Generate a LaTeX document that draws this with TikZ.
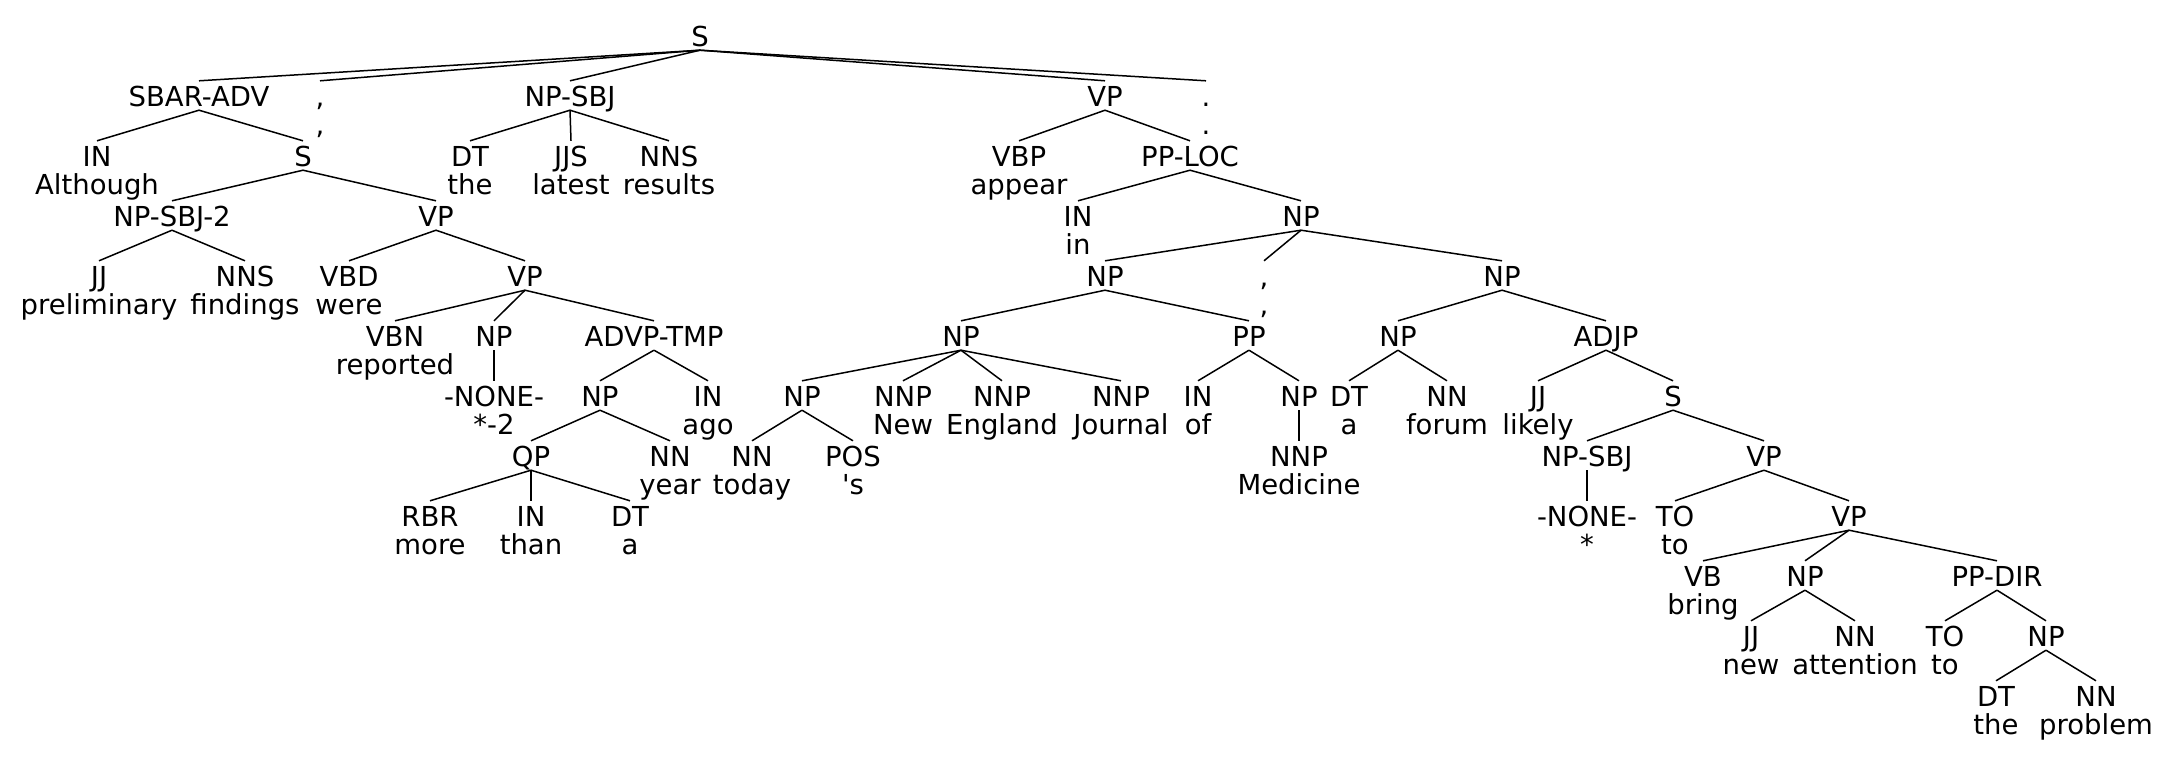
\documentclass[tikz,border=0pt]{standalone}
\usepackage{fontspec}
\newfontfamily\treefont{DejaVu Sans}
\begin{document}
\begin{tikzpicture}[x=1pt,y=-1pt,
  lab/.style={font=\treefont\fontsize{27.5}{30}\selectfont, inner sep=0pt, text height=25pt, text depth=4pt, anchor=base},
  wrd/.style={font=\treefont\fontsize{27.5}{30}\selectfont, inner sep=0pt, anchor=base},
  edge/.style={line width=1.5pt, black}]
\fill[white] (0,0) rectangle (2174,756);
\useasboundingbox (0,0) rectangle (2174,756);
% row 0
\node[lab] (s0) at (700,46) {S};
% row 1
\node[lab] (sbar) at (199,106) {SBAR-ADV};
\node[lab] (c1) at (320,106) {,};   \node[wrd] (c1w) at (320,134) {,};
\node[lab] (npsbj) at (570,106) {NP-SBJ};
\node[lab] (vp1) at (1105,106) {VP};
\node[lab] (p1) at (1206,106) {.};  \node[wrd] (p1w) at (1206,134) {.};
% row 2
\node[lab] (in1) at (97,166) {IN};   \node[wrd] (in1w) at (97,194) {Although};
\node[lab] (s2) at (303,166) {S};
\node[lab] (dt1) at (470,166) {DT};  \node[wrd] (dt1w) at (470,194) {the};
\node[lab] (jjs) at (571,166) {JJS}; \node[wrd] (jjsw) at (571,194) {latest};
\node[lab] (nns1) at (669,166) {NNS}; \node[wrd] (nns1w) at (669,194) {results};
\node[lab] (vbp) at (1019,166) {VBP}; \node[wrd] (vbpw) at (1019,194) {appear};
\node[lab] (pploc) at (1190,166) {PP-LOC};
% row 3
\node[lab] (npsbj2) at (172,226) {NP-SBJ-2};
\node[lab] (vp2) at (436,226) {VP};
\node[lab] (in2) at (1078,226) {IN}; \node[wrd] (in2w) at (1078,254) {in};
\node[lab] (np1) at (1301,226) {NP};
% row 4
\node[lab] (jj1) at (99,286) {JJ};   \node[wrd] (jj1w) at (99,314) {preliminary};
\node[lab] (nns2) at (245,286) {NNS}; \node[wrd] (nns2w) at (245,314) {findings};
\node[lab] (vbd) at (349,286) {VBD}; \node[wrd] (vbdw) at (349,314) {were};
\node[lab] (vp3) at (525,286) {VP};
\node[lab] (np2) at (1105,286) {NP};
\node[lab] (c2) at (1264,286) {,};   \node[wrd] (c2w) at (1264,314) {,};
\node[lab] (np3) at (1502,286) {NP};
% row 5
\node[lab] (vbn) at (395,346) {VBN}; \node[wrd] (vbnw) at (395,374) {reported};
\node[lab] (np4) at (494,346) {NP};
\node[lab] (advp) at (654,346) {ADVP-TMP};
\node[lab] (np5) at (961,346) {NP};
\node[lab] (pp) at (1249,346) {PP};
\node[lab] (np6) at (1398,346) {NP};
\node[lab] (adjp) at (1606,346) {ADJP};
% row 6
\node[lab] (none1) at (494,406) {-NONE-}; \node[wrd] (none1w) at (494,434) {*-2};
\node[lab] (np7) at (600,406) {NP};
\node[lab] (in3) at (708,406) {IN};  \node[wrd] (in3w) at (708,434) {ago};
\node[lab] (np8) at (802,406) {NP};
\node[lab] (nnp1) at (903,406) {NNP}; \node[wrd] (nnp1w) at (903,434) {New};
\node[lab] (nnp2) at (1002,406) {NNP}; \node[wrd] (nnp2w) at (1002,434) {England};
\node[lab] (nnp3) at (1121,406) {NNP}; \node[wrd] (nnp3w) at (1121,434) {Journal};
\node[lab] (in4) at (1198,406) {IN}; \node[wrd] (in4w) at (1198,434) {of};
\node[lab] (np9) at (1299,406) {NP};
\node[lab] (dt2) at (1349,406) {DT}; \node[wrd] (dt2w) at (1349,434) {a};
\node[lab] (nn1) at (1447,406) {NN}; \node[wrd] (nn1w) at (1447,434) {forum};
\node[lab] (jj2) at (1538,406) {JJ}; \node[wrd] (jj2w) at (1538,434) {likely};
\node[lab] (s3) at (1673,406) {S};
% row 7
\node[lab] (qp) at (531,466) {QP};
\node[lab] (nn2) at (670,466) {NN};  \node[wrd] (nn2w) at (670,494) {year};
\node[lab] (nn3) at (752,466) {NN};  \node[wrd] (nn3w) at (752,494) {today};
\node[lab] (pos) at (853,466) {POS}; \node[wrd] (posw) at (853,494) {'s};
\node[lab] (nnp4) at (1299,466) {NNP}; \node[wrd] (nnp4w) at (1299,494) {Medicine};
\node[lab] (npsbj3) at (1587,466) {NP-SBJ};
\node[lab] (vp4) at (1764,466) {VP};
% row 8
\node[lab] (rbr) at (430,526) {RBR}; \node[wrd] (rbrw) at (430,554) {more};
\node[lab] (in5) at (531,526) {IN};  \node[wrd] (in5w) at (531,554) {than};
\node[lab] (dt3) at (630,526) {DT};  \node[wrd] (dt3w) at (630,554) {a};
\node[lab] (none2) at (1587,526) {-NONE-}; \node[wrd] (none2w) at (1587,554) {*};
\node[lab] (to1) at (1675,526) {TO}; \node[wrd] (to1w) at (1675,554) {to};
\node[lab] (vp5) at (1849,526) {VP};
% row 9
\node[lab] (vb) at (1703,586) {VB};  \node[wrd] (vbw) at (1703,614) {bring};
\node[lab] (np10) at (1805,586) {NP};
\node[lab] (ppdir) at (1997,586) {PP-DIR};
% row 10
\node[lab] (jj3) at (1751,646) {JJ}; \node[wrd] (jj3w) at (1751,674) {new};
\node[lab] (nn4) at (1855,646) {NN}; \node[wrd] (nn4w) at (1855,674) {attention};
\node[lab] (to2) at (1945,646) {TO}; \node[wrd] (to2w) at (1945,674) {to};
\node[lab] (np11) at (2046,646) {NP};
% row 11
\node[lab] (dt4) at (1996,706) {DT}; \node[wrd] (dt4w) at (1996,734) {the};
\node[lab] (nn5) at (2096,706) {NN}; \node[wrd] (nn5w) at (2096,734) {problem};
% edges
\foreach \p/\c in {s0/sbar, s0/c1, s0/npsbj, s0/vp1, s0/p1,
  sbar/in1, sbar/s2, s2/npsbj2, s2/vp2, npsbj2/jj1, npsbj2/nns2,
  vp2/vbd, vp2/vp3, vp3/vbn, vp3/np4, vp3/advp, np4/none1,
  advp/np7, advp/in3, np7/qp, np7/nn2, qp/rbr, qp/in5, qp/dt3,
  npsbj/dt1, npsbj/jjs, npsbj/nns1,
  vp1/vbp, vp1/pploc, pploc/in2, pploc/np1,
  np1/np2, np1/c2, np1/np3, np2/np5, np2/pp,
  np5/np8, np5/nnp1, np5/nnp2, np5/nnp3, np8/nn3, np8/pos,
  pp/in4, pp/np9, np9/nnp4,
  np3/np6, np3/adjp, np6/dt2, np6/nn1, adjp/jj2, adjp/s3,
  s3/npsbj3, s3/vp4, npsbj3/none2, vp4/to1, vp4/vp5,
  vp5/vb, vp5/np10, vp5/ppdir, np10/jj3, np10/nn4,
  ppdir/to2, ppdir/np11, np11/dt4, np11/nn5}
  \draw[edge] (\p.south) -- (\c.north);
\end{tikzpicture}
\end{document}
